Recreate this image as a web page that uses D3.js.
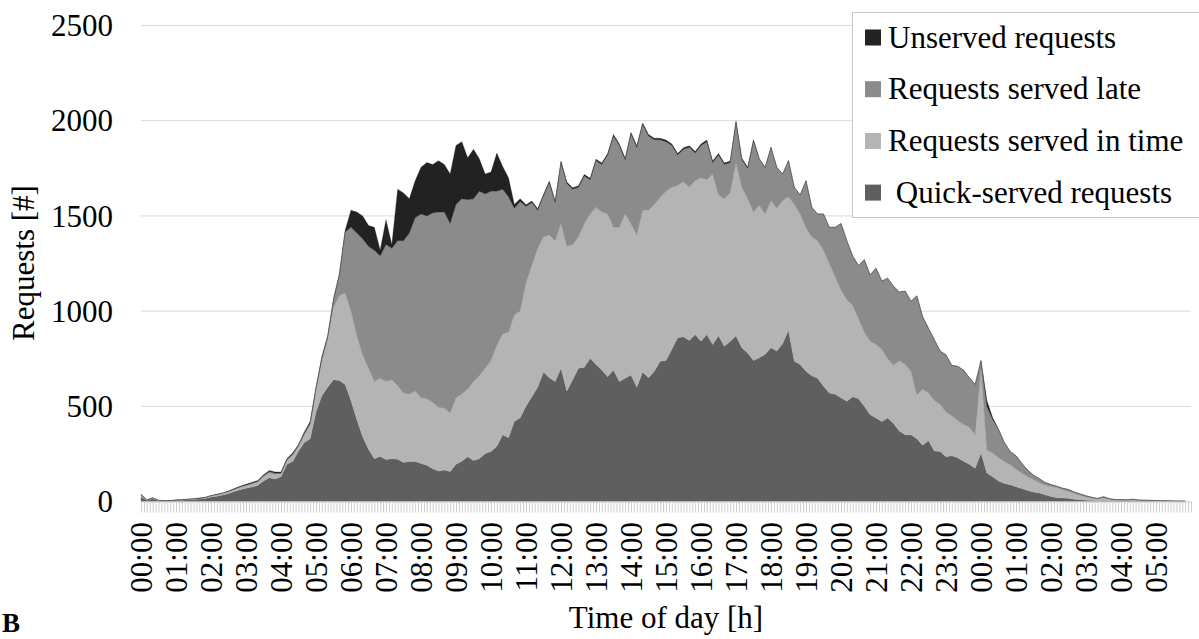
<!DOCTYPE html>
<html>
<head>
<meta charset="utf-8">
<script src="https://cdn.jsdelivr.net/npm/d3@7"></script>
<style>
    body { margin: 0; background: #fff; }
</style>
</head>
<body>
<div id="vis"></div>
<script>

// categories: one value every 10 minutes, 00:00 to 05:50 next day
var stepMinutes = 10;
var hourLabels = ['00:00', '01:00', '02:00', '03:00', '04:00', '05:00', '06:00', '07:00', '08:00', '09:00',
                  '10:00', '11:00', '12:00', '13:00', '14:00', '15:00', '16:00', '17:00', '18:00', '19:00',
                  '20:00', '21:00', '22:00', '23:00', '00:00', '01:00', '02:00', '03:00', '04:00', '05:00'];
var yTicks = [0, 500, 1000, 1500, 2000, 2500];

var keys = ['quick', 'inTime', 'late', 'unserved'];
var legendLabels = ['Unserved requests', 'Requests served late', 'Requests served in time', ' Quick-served requests'];
var legendKeys = ['unserved', 'late', 'inTime', 'quick'];

var quickServed = [
    25, 5, 14, 4, 3, 3,          6, 7, 9, 11, 13, 16,
    24, 28, 34, 42, 52, 62,      70, 76, 84, 108, 125, 118,
    130, 195, 210, 265, 310, 330, 470, 555, 600, 640, 635, 615,
    530, 430, 340, 275, 225, 237, 221, 225, 222, 205, 210, 210,
    200, 190, 172, 160, 166, 158, 195, 212, 235, 215, 225, 252,
    263, 290, 350, 335, 420, 440, 500, 550, 600, 680, 650, 630,
    700, 580, 640, 700, 705, 752, 720, 690, 655, 690, 630, 647,
    665, 600, 680, 650, 684, 737, 740, 800, 860, 865, 845, 877,
    842, 877, 825, 870, 815, 840, 870, 808, 780, 740, 755, 773,
    808, 790, 830, 900, 737, 720, 684, 660, 647, 605, 570, 563,
    545, 526, 550, 540, 500, 456, 438, 420, 438, 410, 370, 350,
    350, 330, 295, 320, 265, 263, 235, 240, 230, 212, 195, 175,
    255, 150, 130, 108, 95, 88,  78, 68, 58, 50, 45, 35,
    26, 20, 18, 17, 12, 9,       6, 5, 4, 5, 3, 3,
    3, 3, 3, 2, 2, 2,            1, 1, 1, 1, 1, 1
];
var servedInTime = [
    8, 2, 4, 1, 1, 1,            1, 2, 2, 3, 3, 4,
    5, 6, 7, 8, 10, 12,          13, 15, 17, 22, 25, 24,
    15, 20, 30, 25, 40, 70,      120, 185, 255, 380, 445, 480,
    470, 440, 430, 425, 405, 410, 410, 415, 386, 365, 353, 370,
    345, 350, 348, 335, 324, 307, 350, 353, 355, 415, 435, 448,
    477, 530, 530, 555, 560, 560, 650, 690, 730, 710, 750, 738,
    760, 760, 710, 690, 755, 758, 825, 830, 855, 750, 810, 863,
    793, 800, 850, 880, 876, 859, 890, 850, 800, 815, 805, 808,
    858, 813, 895, 740, 775, 780, 910, 842, 810, 780, 800, 737,
    772, 750, 750, 700, 823, 790, 753, 730, 721, 715, 680, 617,
    565, 534, 480, 420, 390, 386, 387, 380, 312, 305, 370, 370,
    334, 230, 295, 250, 265, 247, 235, 210, 195, 193, 195, 175,
    445, 120, 125, 122, 115, 105, 92, 82, 72, 65, 53, 50,
    53, 52, 44, 36, 30, 23,      18, 13, 9, 14, 8, 5,
    5, 4, 6, 4, 3, 3,            3, 2, 2, 1, 1, 1
];
var servedLate = [
    3, 1, 1, 1, 1, 1,            1, 1, 1, 1, 1, 1,
    2, 3, 3, 4, 4, 4,            4, 5, 5, 6, 7, 7,
    5, 5, 8, 5, 8, 12,           5, 12, 10, 40, 110, 320,
    440, 540, 610, 640, 690, 643, 719, 690, 762, 800, 847, 910,
    965, 960, 995, 1025, 1030, 995, 1015, 1025, 995, 960, 970, 915,
    890, 810, 760, 710, 560, 575, 400, 330, 200, 215, 275, 202,
    320, 330, 290, 260, 250, 180, 245, 250, 310, 480, 430, 285,
    472, 460, 450, 390, 340, 304, 260, 220, 160, 170, 210, 145,
    170, 200, 60, 210, 180, 160, 210, 145, 160, 375, 245, 245,
    280, 215, 140, 190, 90, 100, 248, 155, 142, 190, 190, 260,
    350, 310, 260, 280, 380, 348, 400, 358, 423, 415, 360, 385,
    368, 520, 380, 340, 320, 280, 300, 265, 285, 285, 260, 265,
    40, 230, 175, 150, 100, 70,  70, 50, 35, 23, 22, 15,
    10, 8, 8, 10, 8, 8,          6, 4, 3, 6, 4, 2,
    2, 2, 3, 2, 2, 1,            1, 1, 1, 1, 0, 0
];
var unserved = [
    2, 0, 1, 0, 0, 0,            0, 0, 0, 0, 1, 1,
    1, 1, 1, 1, 2, 2,            3, 4, 4, 4, 6, 6,
    5, 5, 7, 5, 7, 8,            5, 8, 5, 5, 5, 10,
    90, 110, 120, 110, 120, 30,  130, 20, 270, 250, 180, 195,
    245, 280, 255, 270, 250, 260, 310, 300, 220, 260, 170, 105,
    100, 200, 120, 100, 20, 15,  8, 8, 8, 8, 8, 8,
    8, 8, 8, 8, 8, 8,            8, 8, 8, 8, 8, 8,
    8, 8, 8, 8, 8, 8,            8, 8, 8, 8, 8, 8,
    8, 8, 8, 8, 8, 8,            8, 8, 5, 5, 0, 0,
    0, 0, 0, 0, 0, 0,            0, 0, 0, 0, 0, 0,
    0, 0, 0, 0, 0, 0,            0, 0, 0, 0, 0, 0,
    0, 0, 0, 0, 0, 0,            0, 0, 0, 0, 0, 0,
    0, 30, 10, 0, 0, 0,          0, 0, 0, 0, 0, 0,
    0, 0, 0, 0, 0, 0,            0, 0, 0, 0, 0, 0,
    0, 0, 0, 0, 0, 0,            0, 0, 0, 0, 0, 0
];

var colors = {
    quick: '#5f5f5f',
    inTime: '#b4b4b4',
    late: '#8b8b8b',
    unserved: '#222222'
};

var serif = '"Liberation Serif", "Times New Roman", Tinos, Times, "DejaVu Serif", serif';

var width = 1199;
var height = 639;
var margin = { top: 25, right: 8, bottom: 138, left: 141 };
var plotRight = width - margin.right;
var plotBottom = height - margin.bottom;

var svg = d3.select('#vis')
            .append('svg')
            .attr('width', width)
            .attr('height', height)
            .attr('font-family', serif);

var rows = quickServed.map(function(v, i) {
    return {
        minute: i * stepMinutes,
        quick: v,
        inTime: servedInTime[i],
        late: servedLate[i],
        unserved: unserved[i]
    };
});

var xScale = d3.scaleLinear()
               .domain([0, hourLabels.length * 60])
               .range([margin.left, plotRight]);

var yScale = d3.scaleLinear()
               .domain([0, 2500])
               .range([plotBottom + 0.5, margin.top + 0.5]);

//////////////////////////////// grid + y axis ////////////////////////////////
svg.append('g')
   .selectAll('line')
   .data(yTicks.filter(function(d) { return d > 0; }))
   .enter()
   .append('line')
   .attr('x1', margin.left)
   .attr('x2', plotRight)
   .attr('y1', function(d) { return yScale(d); })
   .attr('y2', function(d) { return yScale(d); })
   .attr('stroke', '#d9d9d9')
   .attr('stroke-width', 1);

var yAxis = d3.axisLeft(yScale)
              .tickValues(yTicks)
              .tickSize(0)
              .tickPadding(0)
              .tickFormat(d3.format('d'));
svg.append('g')
   .attr('transform', 'translate(113, 0)')
   .call(yAxis)
   .attr('font-family', serif)
   .call(function(g) { g.select('.domain').remove(); })
   .selectAll('text')
   .attr('fill', '#000')
   .style('font-size', '31px')
   .attr('dy', '0.33em');

//////////////////////////////// stacked areas ////////////////////////////////
var stack = d3.stack().keys(keys);
var layers = stack(rows);

var area = d3.area()
             .x(function(d) { return xScale(d.data.minute); })
             .y0(function(d) { return yScale(d[0]); })
             .y1(function(d) { return yScale(d[1]); });

svg.append('g')
   .selectAll('path')
   .data(layers)
   .enter()
   .append('path')
   .attr('d', area)
   .attr('fill', function(d) { return colors[d.key]; })
   .attr('stroke', function(d) { return colors[d.key]; })
   .attr('stroke-width', 0.3);

//////////////////////////////// x axis ////////////////////////////////
var minorAxis = d3.axisBottom(xScale)
                  .tickValues(d3.range(0, hourLabels.length * 60 + 1, 5))
                  .tickSize(11)
                  .tickFormat('');
svg.append('g')
   .attr('transform', 'translate(0, ' + (plotBottom + 0.5) + ')')
   .call(minorAxis)
   .call(function(g) {
       g.select('.domain').attr('stroke', '#cfcfcf');
       g.selectAll('.tick line').attr('stroke', '#cfcfcf');
   });

var hourAxis = d3.axisBottom(xScale)
                 .tickValues(d3.range(0, hourLabels.length * 60, 60))
                 .tickSize(0)
                 .tickPadding(0)
                 .tickFormat(function(d, i) { return hourLabels[i]; });
svg.append('g')
   .attr('transform', 'translate(0, ' + (plotBottom + 21) + ')')
   .call(hourAxis)
   .attr('font-family', serif)
   .call(function(g) { g.select('.domain').remove(); })
   .selectAll('text')
   .attr('fill', '#000')
   .style('font-size', '31px')
   .style('text-anchor', 'end')
   .attr('x', 0)
   .attr('y', 0)
   .attr('dy', '0.35em')
   .attr('transform', 'rotate(-90)');

//////////////////////////////// axis titles ////////////////////////////////
svg.append('text')
   .attr('x', (margin.left + plotRight) / 2)
   .attr('y', 628)
   .style('text-anchor', 'middle')
   .style('font-size', '31px')
   .text('Time of day [h]');

// Excel centres the axis title on the plot area
svg.append('text')
   .attr('transform', 'translate(34, ' + ((margin.top + plotBottom) / 2) + ') rotate(-90)')
   .style('text-anchor', 'middle')
   .style('font-size', '31px')
   .text('Requests [#]');

// panel letter, sits on the bottom-left corner
svg.append('text')
   .attr('x', 2)
   .attr('y', 632)
   .style('font-size', '27px')
   .style('font-weight', 'bold')
   .text('B');

//////////////////////////////// legend ////////////////////////////////
svg.append('rect')
   .attr('x', 852.5)
   .attr('y', 12.5)
   .attr('width', 360)
   .attr('height', 205)
   .attr('fill', '#fff')
   .attr('stroke', '#c8c8c8');

var legend = svg.selectAll('.legend')
                .data(legendKeys)
                .enter()
                .append('g')
                .attr('class', 'legend')
                .attr('transform', function(d, i) { return 'translate(865, ' + (37.5 + i * 51.7) + ')'; });

legend.append('rect')
      .attr('x', 0)
      .attr('y', -8)
      .attr('width', 16)
      .attr('height', 16)
      .attr('fill', function(d) { return colors[d]; });

legend.append('text')
      .attr('x', 23)
      .attr('y', 0)
      .attr('dy', '0.33em')
      .style('font-size', '31px')
      .style('white-space', 'pre')
      .text(function(d, i) { return legendLabels[i]; });

</script>
</body>
</html>
